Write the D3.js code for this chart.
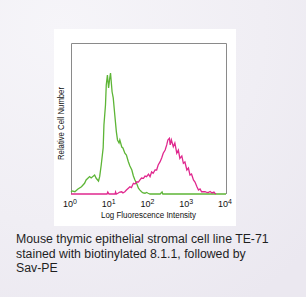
<!DOCTYPE html>
<html>
<head>
<meta charset="utf-8">
<script src="https://cdn.jsdelivr.net/npm/d3@7"></script>
<style>
  html, body { margin: 0; padding: 0; }
  body { width: 306px; height: 297px; overflow: hidden; }
</style>
</head>
<body>
<div id="chart"></div>
<script>
// log10 of fluorescence intensity vs relative cell count (0..100)
const greenLog = [0.00, 0.03, 0.10, 0.18, 0.27, 0.35, 0.39, 0.48, 0.52, 0.61, 0.65, 0.71, 0.74, 0.78, 0.83, 0.85, 0.89, 0.91, 0.94, 0.97, 1.00, 1.02, 1.06, 1.09, 1.13, 1.17, 1.20, 1.24, 1.26, 1.31, 1.34, 1.39, 1.43, 1.48, 1.52, 1.57, 1.61, 1.65, 1.70, 1.74, 1.78, 1.82, 1.86, 1.91, 1.95, 1.99, 2.04, 2.30, 2.35, 2.37, 4.00];
const greenCount = [1.3, 2.0, 1.5, 3.3, 4.8, 7.1, 9.3, 11.5, 10.6, 12.6, 10.4, 8.6, 11.5, 19.2, 30.5, 45.7, 58.9, 72.2, 78.8, 70.2, 76.8, 80.1, 67.7, 63.6, 52.3, 41.3, 35.8, 33.8, 35.8, 31.1, 30.5, 27.0, 25.8, 21.4, 18.5, 15.9, 11.9, 9.3, 6.6, 3.8, 2.6, 1.5, 0.7, 0.5, 1.0, 0.5, 0, 0, 1.3, 0, 0];

const pinkLog = [0.00, 0.93, 0.95, 0.98, 1.14, 1.15, 1.17, 1.21, 1.26, 1.31, 1.34, 1.39, 1.43, 1.48, 1.52, 1.56, 1.61, 1.65, 1.70, 1.74, 1.78, 1.82, 1.87, 1.91, 1.95, 2.00, 2.04, 2.08, 2.12, 2.17, 2.21, 2.25, 2.30, 2.34, 2.38, 2.43, 2.47, 2.50, 2.54, 2.56, 2.59, 2.64, 2.68, 2.73, 2.77, 2.81, 2.86, 2.90, 2.94, 2.99, 3.03, 3.07, 3.11, 3.16, 3.20, 3.25, 3.29, 3.33, 3.37, 3.46, 3.51, 3.54, 3.59, 3.64, 3.69, 3.72, 3.74];
const pinkCount = [0, 0, 1.3, 0, 0, 1.3, 0, 0.5, 1.3, 1.5, 0.7, 1.5, 2.6, 3.8, 4.8, 4.3, 7.1, 6.6, 8.1, 7.9, 9.3, 10.6, 10.4, 11.9, 11.5, 13.2, 11.5, 14.6, 13.7, 15.9, 15.9, 19.2, 21.4, 23.8, 27.0, 29.1, 32.5, 35.8, 36.9, 32.5, 35.8, 31.3, 33.8, 27.0, 29.1, 23.6, 25.2, 20.3, 21.2, 15.9, 17.2, 12.6, 13.2, 9.3, 7.9, 4.8, 2.6, 3.3, 1.5, 1.5, 1.0, 0.9, 1.7, 0.7, 1.3, 0.3, 0];

const tickExp = [0, 1, 2, 3, 4];
const xTitle = "Log Fluorescence Intensity";
const yTitle = "Relative Cell Number";
const caption = ["Mouse thymic epithelial stromal cell line TE-71", "stained with biotinylated 8.1.1, followed by", "Sav-PE"];

const W = 306, H = 297;
const svg = d3.select("#chart").append("svg")
    .attr("width", W)
    .attr("height", H)
    .style("font-family", "'Liberation Sans', Arial, sans-serif");

const defs = svg.append("defs");
const bg = defs.append("radialGradient").attr("id", "bg")
    .attr("cx", "0.2").attr("cy", "0.1").attr("r", "1.1");
bg.append("stop").attr("offset", "0").attr("stop-color", "#f6f5f9");
bg.append("stop").attr("offset", "0.6").attr("stop-color", "#f0eef4");
bg.append("stop").attr("offset", "1").attr("stop-color", "#ebe8f0");
svg.append("rect").attr("width", W).attr("height", H).attr("fill", "url(#bg)");

// white panel behind the plot
svg.append("rect")
    .attr("x", 54).attr("y", 29).attr("width", 182).attr("height", 197)
    .attr("fill", "#ffffff");

const pLeft = 71, pRight = 226, pTop = 43, pBottom = 194;
const x = d3.scaleLinear().domain([0, 4]).range([pLeft, pRight]);
const y = d3.scaleLinear().domain([0, 100]).range([pBottom, pTop]);

const line = d3.line().x(d => x(d[0])).y(d => y(d[1]));

// frame (left, top, right)
svg.append("path")
    .attr("d", `M${pLeft + 0.5},${pBottom}V${pTop + 0.5}H${pRight + 0.5}V${pBottom}`)
    .attr("fill", "none").attr("stroke", "#8a8a8a").attr("stroke-width", 1);

svg.append("path")
    .datum(d3.zip(greenLog, greenCount))
    .attr("d", line)
    .attr("fill", "none")
    .attr("stroke", "#5db536")
    .attr("stroke-width", 1.3);

svg.append("path")
    .datum(d3.zip(pinkLog, pinkCount))
    .attr("d", line)
    .attr("fill", "none")
    .attr("stroke", "#e0288e")
    .attr("stroke-width", 1.3);

// tick labels 10^n
const tl = svg.append("g").selectAll("text")
    .data(tickExp).enter().append("text")
    .attr("x", d => x(d) - 1)
    .attr("y", 207)
    .attr("text-anchor", "middle")
    .attr("font-size", "9px")
    .attr("fill", "#111");
tl.append("tspan").text("10");
tl.append("tspan").attr("dy", -3).attr("font-size", "7px").text(d => d);

svg.append("text")
    .attr("x", x(2))
    .attr("y", 218)
    .attr("text-anchor", "middle")
    .attr("font-size", "8.5px")
    .attr("textLength", 95)
    .attr("lengthAdjust", "spacingAndGlyphs")
    .attr("fill", "#111")
    .text(xTitle);

svg.append("text")
    .attr("transform", `translate(64,${(87 + 160) / 2}) rotate(-90)`)
    .attr("text-anchor", "middle")
    .attr("font-size", "8.5px")
    .attr("textLength", 73)
    .attr("lengthAdjust", "spacingAndGlyphs")
    .attr("fill", "#111")
    .text(yTitle);

svg.append("g").selectAll("text")
    .data(caption).enter().append("text")
    .attr("x", 16)
    .attr("y", (d, i) => 243 + i * 14.5)
    .attr("font-size", "12.3px")
    .attr("fill", "#1f1f1f")
    .text(d => d);
</script>
</body>
</html>
